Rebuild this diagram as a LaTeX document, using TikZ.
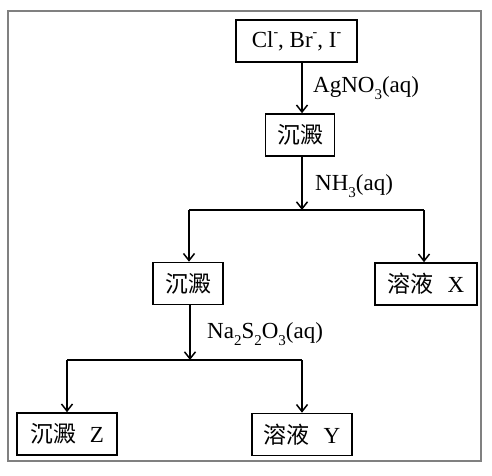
\documentclass[tikz,border=0pt]{standalone}
\usepackage{fontspec}
\setmainfont{Liberation Serif}
\newfontfamily\cjk{Noto Sans CJK TC}
\usetikzlibrary{arrows.meta}
\newcommand{\lowsub}[1]{\raisebox{-0.28em}{\fontsize{15}{15}\selectfont #1}}
\newcommand{\highsup}[1]{\raisebox{0.45em}{\fontsize{14}{14}\selectfont #1}}
\tikzset{
  box/.style={draw, line width=1.6pt, minimum height=42pt, inner sep=0pt, font=\fontsize{23}{23}\selectfont},
  conn/.style={line width=1.6pt, -{Straight Barb[length=7pt,width=11pt,line width=1.5pt]}},
  seg/.style={line width=1.6pt},
  lbl/.style={anchor=west, inner sep=0pt, font=\fontsize{23}{23}\selectfont}
}
\begin{document}
\begin{tikzpicture}[x=1pt,y=-1pt]
\useasboundingbox (0,0) rectangle (492,475);
\draw[draw=black!50, line width=1.3pt] (8,11) rectangle (481,461);
\node[box, minimum width=121pt] (ions) at (296.5,41) {Cl\highsup{-}, Br\highsup{-}, I\highsup{-}};
\node[box, minimum width=69pt] (p1) at (300,135) {\cjk 沉澱};
\node[box, minimum width=70pt] (p2) at (188,283.5) {\cjk 沉澱};
\node[box, minimum width=102pt] (sx) at (426,284) {{\cjk 溶液}\hspace{0.6em}X};
\node[box, minimum width=100pt] (pz) at (67,434) {{\cjk 沉澱}\hspace{0.6em}Z};
\node[box, minimum width=100pt] (sy) at (302,434.5) {{\cjk 溶液}\hspace{0.6em}Y};
\coordinate (j1) at (302,210);
\coordinate (j1l) at (189,210);
\coordinate (j1r) at (424,210);
\coordinate (j2) at (190,360);
\coordinate (j2l) at (67,360);
\coordinate (j2r) at (302,360);
\draw[conn] (ions.south -| p1.north) ++(2,0) coordinate (a1) -- (a1 |- p1.north);
\draw[conn] (p1.south -| j1) -- (j1);
\draw[seg] (j1l) -- (j1r);
\draw[conn] (j1l) -- (j1l |- p2.north);
\draw[conn] (j1r) -- (j1r |- sx.north);
\draw[conn] (p2.south -| j2) -- (j2);
\draw[seg] (j2l) -- (j2r);
\draw[conn] (j2l) -- (j2l |- pz.north);
\draw[conn] (j2r) -- (j2r |- sy.north);
\node[lbl] (l1) at (313,88) {AgNO\lowsub{3}(aq)};
\node[lbl] (l2) at (315,186) {NH\lowsub{3}(aq)};
\node[lbl] (l3) at (207,334) {Na\lowsub{2}S\lowsub{2}O\lowsub{3}(aq)};
\end{tikzpicture}
\end{document}
